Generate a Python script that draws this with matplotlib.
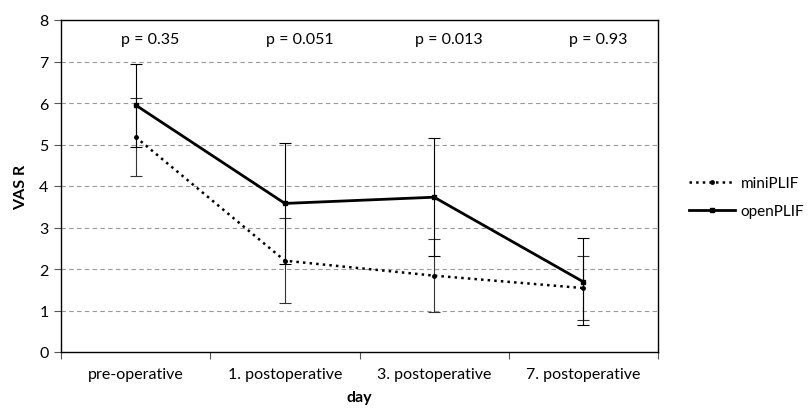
import numpy as np
import matplotlib.pyplot as plt
from matplotlib.lines import Line2D

plt.rcParams['font.family'] = ['Lato', 'DejaVu Sans']

# data
days = ['pre-operative', '1. postoperative', '3. postoperative', '7. postoperative']
mini_mean = [5.18, 2.20, 1.84, 1.54]
mini_err = [0.93, 1.02, 0.88, 0.78]
open_mean = [5.95, 3.58, 3.73, 1.69]
open_err = [1.00, 1.46, 1.42, 1.05]
p_values = ['p = 0.35', 'p = 0.051', 'p = 0.013', 'p = 0.93']

x = np.arange(len(days))

fig = plt.figure(figsize=(8.1, 4.14), dpi=100)
ax = fig.add_axes([61/810, 1 - 353/414, 597/810, 332/414])

ax.errorbar(x, mini_mean, yerr=mini_err, color='black', linestyle=':', linewidth=1.8,
            marker='o', markersize=2.5, ecolor='#333333', elinewidth=0.8, capsize=4,
            capthick=0.8, zorder=3)
ax.errorbar(x, open_mean, yerr=open_err, color='black', linestyle='-', linewidth=2.0,
            marker='s', markersize=3, ecolor='black', elinewidth=0.8, capsize=4,
            capthick=0.8, zorder=4)

for i, p in enumerate(p_values):
    ax.text(x[i] + 0.1, 7.55, p, ha='center', va='center', fontsize=11.5)

ax.set_xlim(-0.5, 3.5)
ax.set_ylim(0, 8)
ax.set_yticks(range(0, 9))
ax.set_xticks(np.arange(-0.5, 4, 1))
ax.set_xticklabels([])
ax.set_xticks(x, minor=True)
ax.set_xticklabels(days, minor=True)
ax.tick_params(axis='x', which='minor', length=0, pad=11, labelsize=11.5)
ax.tick_params(axis='x', which='major', length=5, direction='out', width=0.8, color='#555555')
ax.tick_params(axis='y', length=5, direction='out', width=0.8, color='#555555', labelsize=11.5, pad=4)

for y in range(1, 8):
    ax.axhline(y, color='#999999', linestyle=(0, (4, 3)), linewidth=0.8, zorder=1)

for s in ax.spines.values():
    s.set_linewidth(1.0)
    s.set_color('black')

ax.set_ylabel('VAS R', fontsize=11.5, fontweight='bold', labelpad=8)
ax.set_xlabel('day', fontsize=11.5, fontweight='bold', labelpad=6)

handles = [
    Line2D([], [], color='black', linestyle=':', linewidth=1.8, marker='o', markersize=2.5),
    Line2D([], [], color='black', linestyle='-', linewidth=2.0, marker='s', markersize=3),
]
fig.legend(handles, ['miniPLIF', 'openPLIF'], loc='center left',
           bbox_to_anchor=(678/810, 1 - 198/414), frameon=False, fontsize=11,
           handlelength=3.0, handletextpad=0.4, labelspacing=0.9, borderpad=0.2)

fig.savefig('out.png', dpi=100)
